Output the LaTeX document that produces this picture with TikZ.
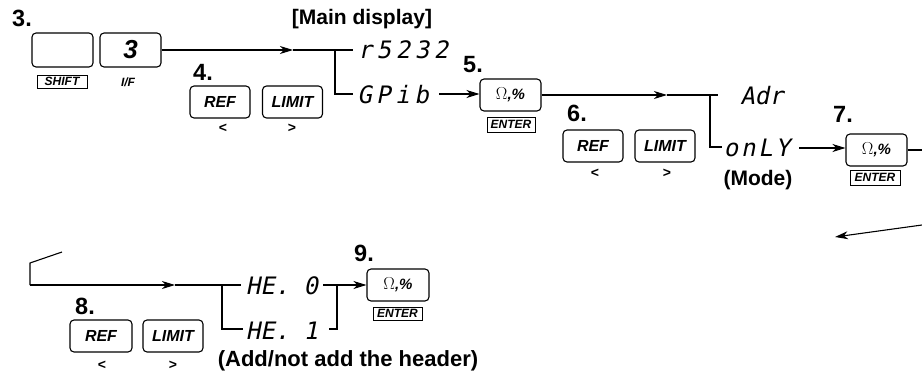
\documentclass[tikz,border=0pt]{standalone}
\usepackage{fontspec}
\setmainfont{Liberation Sans}
\newfontfamily\omegafont{Liberation Serif}
\newfontfamily\segfontA[FakeSlant=0.2,LetterSpace=19]{DejaVu Sans Mono}
\newfontfamily\segfontB[FakeSlant=0.2,LetterSpace=12]{DejaVu Sans Mono}
\newfontfamily\segfontC[FakeSlant=0.2]{DejaVu Sans Mono}
\usetikzlibrary{arrows.meta}
\begin{document}
\begin{tikzpicture}[x=1pt,y=-1pt,
  stepnum/.style={font=\fontsize{23.5}{23.5}\selectfont\bfseries, inner sep=0pt},
  keybox/.style={draw, rounded corners=4pt, line width=1.1pt, minimum width=60pt, minimum height=32pt, inner sep=0pt, font=\fontsize{16}{16}\selectfont\bfseries\itshape},
  lblbox/.style={draw, line width=0.8pt, inner sep=0pt, minimum height=13pt, font=\fontsize{12}{12}\selectfont\bfseries\itshape},
  segA/.style={font=\segfontA\fontsize{24}{24}\selectfont, inner sep=0pt},
  segB/.style={font=\segfontB\fontsize{24}{24}\selectfont, inner sep=0pt},
  segC/.style={font=\segfontC\fontsize{24}{24}\selectfont, inner sep=0pt},
  caption/.style={font=\fontsize{21}{21}\selectfont\bfseries, inner sep=0pt},
  chev/.style={font=\fontsize{14}{14}\selectfont\bfseries, inner sep=0pt},
  conn/.style={line width=1.1pt},
  arr/.style={-{Stealth[length=13pt,width=8pt,inset=4pt]}}]
\useasboundingbox (0,0) rectangle (922,378);

% step 3
\node[stepnum] (s3) at (22,18.5) {3.};
\node[keybox, minimum width=61pt, minimum height=34pt] (kblank) at (62.5,50) {};
\node[keybox, minimum width=61pt, minimum height=34pt, font=\fontsize{26}{26}\selectfont\bfseries\itshape] (k3) at (130.5,50) {3};
\node[lblbox, minimum width=50pt] (lshift) at (62,81.5) {SHIFT};
\node[font=\fontsize{12}{12}\selectfont\bfseries\itshape, inner sep=0pt] (lif) at (128,82) {I/F};

\node[caption] (main) at (362,19) {[Main display]};

\coordinate (a1) at (293,50);
\coordinate (j1) at (335,50);
\coordinate (j1b) at (335,94);
\node[segA] (rs) at (403,50) {r5232};
\node[segA] (gp) at (393,95) {GPib};
\coordinate (rsin) at (353,50);
\coordinate (gpin) at (353,94);
\draw[conn,arr] (k3.east) -- (a1);
\draw[conn] (a1) -- (rsin);
\draw[conn] (j1) -- (j1b) -- (gpin);

% step 4
\node[stepnum] (s4) at (203,72.5) {4.};
\node[keybox] (ref4) at (220,102) {REF};
\node[keybox] (lim4) at (292.5,102) {LIMIT};
\node[chev] (lt4) at (223,128) {<};
\node[chev] (gt4) at (292,128) {>};

% step 5
\node[stepnum] (s5) at (473,65) {5.};
\node[keybox, minimum width=61pt] (e5) at (510.5,95) {{\omegafont\bfseries\upshape $\Omega$}{\fontsize{15}{15}\selectfont,\%}};
\node[lblbox, minimum width=48pt, minimum height=15pt] (le5) at (511,124.5) {ENTER};
\coordinate (gpout) at (439,94);
\draw[conn,arr] (gpout) -- (e5.west |- gpout);

\coordinate (a2) at (667,95);
\coordinate (j2) at (710,95);
\coordinate (adrin) at (718,95);
\coordinate (j2b) at (710,147);
\coordinate (onin) at (722,147);
\draw[conn,arr] (e5.east) -- (a2);
\draw[conn] (a2) -- (adrin);
\draw[conn] (j2) -- (j2b) -- (onin);
\node[segC] (adr) at (762,96) {Adr};
\node[segB] (only) at (757,148) {onLY};
\node[caption] (mode) at (758,180) {(Mode)};

% step 6
\node[stepnum] (s6) at (577,113) {6.};
\node[keybox] (ref6) at (593,146) {REF};
\node[keybox] (lim6) at (665,146) {LIMIT};
\node[chev] (lt6) at (595,173) {<};
\node[chev] (gt6) at (667,173) {>};

% step 7
\node[stepnum] (s7) at (843,114) {7.};
\node[keybox, minimum width=61pt] (e7) at (876.5,150) {{\omegafont\bfseries\upshape $\Omega$}{\fontsize{15}{15}\selectfont,\%}};
\node[lblbox, minimum width=50pt, minimum height=15pt] (le7) at (875,177.5) {ENTER};
\coordinate (onout) at (799,148);
\draw[conn,arr] (onout) -- (e7.west |- onout);
\coordinate (rightout) at (922,150);
\draw[conn] (e7.east) -- (rightout);

\coordinate (rin) at (922,225);
\coordinate (rtip) at (835,237);
\draw[conn,arr] (rin) -- (rtip);

% bottom row
\coordinate (l0) at (62,252);
\coordinate (l1) at (30,263);
\coordinate (l2) at (30,285);
\coordinate (a3) at (175,285);
\coordinate (j3) at (222,285);
\coordinate (he0in) at (241,285);
\coordinate (j3b) at (222,329);
\coordinate (he1in) at (243,329);
\draw[conn] (l0) -- (l1) -- (l2);
\draw[conn,arr] (l2) -- (a3);
\draw[conn] (a3) -- (he0in);
\draw[conn] (j3) -- (j3b) -- (he1in);
\node[segC] (he0) at (282,286) {HE. 0};
\node[segC] (he1) at (282,331) {HE. 1};

\coordinate (he0out) at (323,285);
\coordinate (j4) at (337,285);
\coordinate (he1out) at (329,329);
\coordinate (j4b) at (337,329);

\node[stepnum] (s9) at (364,253) {9.};
\node[keybox, minimum width=62pt] (e9) at (398,285) {{\omegafont\bfseries\upshape $\Omega$}{\fontsize{15}{15}\selectfont,\%}};
\node[lblbox, minimum width=49pt] (le9) at (397.5,313.5) {ENTER};
\draw[conn] (he0out) -- (j4);
\draw[conn,arr] (j4) -- (e9.west);
\draw[conn] (he1out) -- (j4b) -- (j4);

% step 8
\node[stepnum] (s8) at (85,306) {8.};
\node[keybox, minimum width=62pt] (ref8) at (101,336) {REF};
\node[keybox] (lim8) at (173,336) {LIMIT};
\node[chev] (lt8) at (102,365) {<};
\node[chev] (gt8) at (173,365) {>};

\node[caption, font=\fontsize{22}{22}\selectfont\bfseries] (hdr) at (348,361) {(Add/not add the header)};
\end{tikzpicture}
\end{document}
